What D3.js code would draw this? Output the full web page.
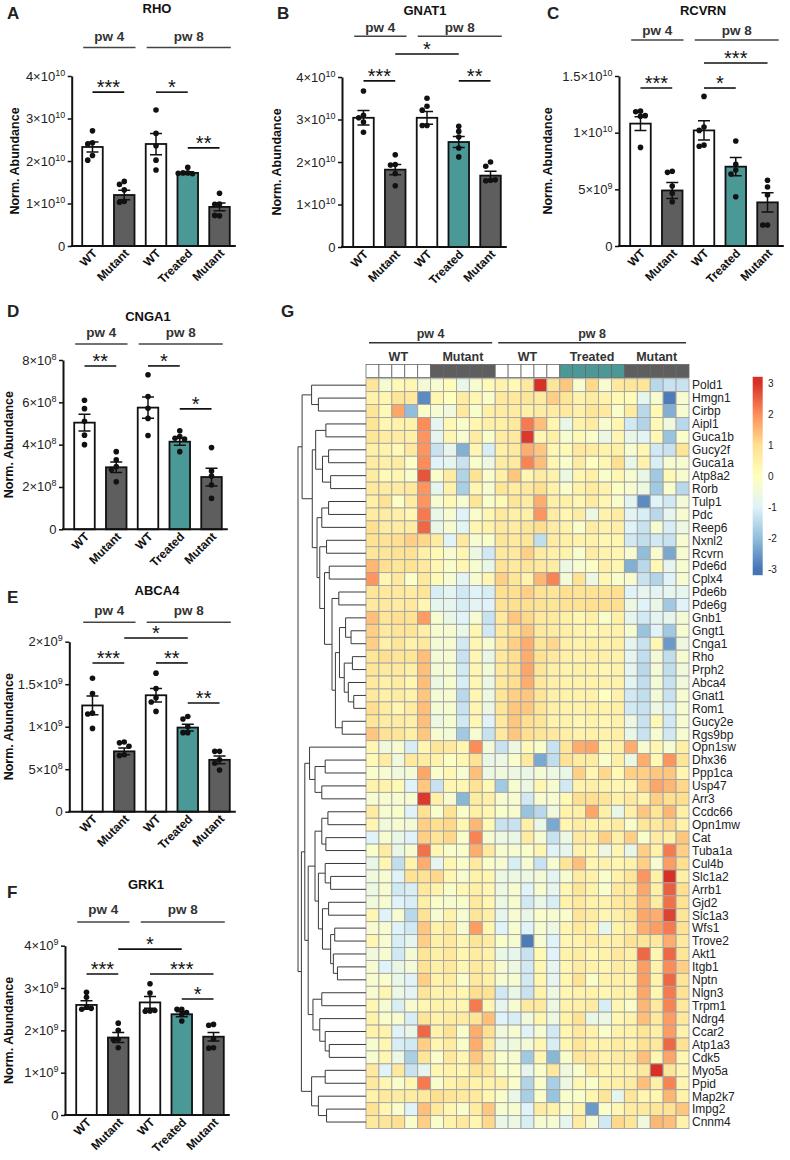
<!DOCTYPE html>
<html>
<head>
<meta charset="utf-8">
<script src="https://cdn.jsdelivr.net/npm/d3@7"></script>
<style>
  body { margin: 0; background: #fff; }
  svg { display: block; }
  text { font-family: "Liberation Sans", Arial, Helvetica, sans-serif; }
</style>
</head>
<body>
<svg id="fig" width="790" height="1160"></svg>
<script>
// ---- bar chart data (units shown in tick labels) ----
const groups = ["WT", "Mutant", "WT", "Treated", "Mutant"];
const groupFill = ["#ffffff", "#5e5e5e", "#ffffff", "#4b9997", "#5e5e5e"];

// RHO, x1e10
const rhoPoints = [[2.71, 2.43, 2.40, 2.13, 2.02], [1.52, 1.45, 1.32, 1.05, 1.03], [3.20, 2.65, 2.36, 2.02, 1.79], [1.85, 1.72, 1.72, 1.70, 1.71], [1.24, 0.99, 0.98, 0.71, 0.72]];
const rhoMean = [2.33, 1.20, 2.40, 1.72, 0.92];
const rhoSem = [0.12, 0.11, 0.25, 0.03, 0.09];
const rhoTicks = [0, 1, 2, 3, 4];
const rhoTickLabels = ["0", "1×10^10", "2×10^10", "3×10^10", "4×10^10"];

// GNAT1, x1e10
const gnatPoints = [[3.67, 3.10, 3.04, 2.94, 2.70], [2.17, 1.94, 1.93, 1.73, 1.44], [3.50, 3.31, 3.22, 2.86, 2.86], [2.84, 2.72, 2.59, 2.33, 2.12], [2.00, 1.90, 1.57, 1.56, 1.58]];
const gnatMean = [3.04, 1.82, 3.04, 2.47, 1.68];
const gnatSem = [0.17, 0.12, 0.15, 0.13, 0.10];
const gnatTicks = [0, 1, 2, 3, 4];
const gnatTickLabels = ["0", "1×10^10", "2×10^10", "3×10^10", "4×10^10"];

// RCVRN, x1e9
const rcvrnPoints = [[11.9, 11.85, 11.5, 11.45, 8.7], [6.6, 6.5, 5.3, 4.65, 3.9], [13.2, 10.5, 10.2, 8.9, 8.8], [9.26, 7.2, 6.7, 6.35, 4.35], [5.8, 5.2, 4.5, 1.85, 1.85]];
const rcvrnMean = [10.8, 4.9, 10.2, 7.0, 3.85];
const rcvrnSem = [0.6, 0.7, 0.85, 0.8, 0.85];
const rcvrnTicks = [0, 5, 10, 15];
const rcvrnTickLabels = ["0", "5×10^9", "1×10^10", "1.5×10^10"];

// CNGA1, x1e8
const cngaPoints = [[6.1, 5.7, 5.1, 4.45, 4.0], [3.67, 3.28, 2.96, 2.83, 2.25], [7.3, 6.27, 5.72, 5.24, 4.43], [4.66, 4.38, 4.3, 4.27, 3.67], [3.86, 2.76, 2.52, 2.09, 1.46]];
const cngaMean = [5.04, 2.93, 5.75, 4.14, 2.47];
const cngaSem = [0.4, 0.25, 0.5, 0.17, 0.42];
const cngaTicks = [0, 2, 4, 6, 8];
const cngaTickLabels = ["0", "2×10^8", "4×10^8", "6×10^8", "8×10^8"];

// ABCA4, x1e8
const abcaPoints = [[15.7, 13.9, 11.6, 11.5, 9.8], [8.2, 8.1, 7.7, 6.7, 6.6], [16.3, 14.5, 13.4, 12.9, 11.8], [11.2, 10.9, 10.0, 9.3, 9.3], [7.1, 7.1, 6.1, 5.7, 4.9]];
const abcaMean = [12.5, 7.1, 13.7, 9.9, 6.1];
const abcaSem = [1.1, 0.4, 0.8, 0.4, 0.45];
const abcaTicks = [0, 5, 10, 15, 20];
const abcaTickLabels = ["0", "5×10^8", "1×10^9", "1.5×10^9", "2×10^9"];

// GRK1, x1e9
const grkPoints = [[2.9, 2.78, 2.55, 2.5, 2.52], [2.17, 2.0, 1.79, 1.78, 1.59], [3.1, 2.88, 2.46, 2.45, 2.47], [2.5, 2.5, 2.42, 2.38, 2.22], [2.14, 2.12, 1.8, 1.59, 1.58]];
const grkMean = [2.6, 1.83, 2.66, 2.38, 1.85];
const grkSem = [0.1, 0.12, 0.14, 0.06, 0.1];
const grkTicks = [0, 1, 2, 3, 4];
const grkTickLabels = ["0", "1×10^9", "2×10^9", "3×10^9", "4×10^9"];

// significance brackets: [from group, to group, level in data units, label]
const rhoSig = [[0, 1, 3.62, "***"], [2, 3, 3.62, "*"], [3, 4, 2.31, "**"]];
const gnatSig = [[1, 3, 4.54, "*"], [0, 1, 3.91, "***"], [3, 4, 3.91, "**"]];
const rcvrnSig = [[2, 4, 16.15, "***"], [0, 1, 13.94, "***"], [2, 3, 13.94, "*"]];
const cngaSig = [[0, 1, 7.72, "**"], [2, 3, 7.72, "*"], [3, 4, 5.69, "*"]];
const abcaSig = [[1, 3, 20.44, "*"], [0, 1, 17.5, "***"], [2, 3, 17.5, "**"], [3, 4, 12.79, "**"]];
const grkSig = [[1, 3, 3.92, "*"], [0, 1, 3.33, "***"], [2, 4, 3.33, "***"], [3, 4, 2.74, "*"]];

// ---- heatmap data ----
const geneNames = ["Pold1", "Hmgn1", "Cirbp", "Aipl1", "Guca1b", "Gucy2f", "Guca1a", "Atp8a2", "Rorb", "Tulp1", "Pdc", "Reep6", "Nxnl2", "Rcvrn", "Pde6d", "Cplx4", "Pde6b", "Pde6g", "Gnb1", "Gngt1", "Cnga1", "Rho", "Prph2", "Abca4", "Gnat1", "Rom1", "Gucy2e", "Rgs9bp",
  "Opn1sw", "Dhx36", "Ppp1ca", "Usp47", "Arr3", "Ccdc66", "Opn1mw", "Cat", "Tuba1a", "Cul4b", "Slc1a2", "Arrb1", "Gjd2", "Slc1a3", "Wfs1", "Trove2", "Akt1", "Itgb1", "Nptn", "Nlgn3", "Trpm1", "Ndrg4", "Ccar2", "Atp1a3", "Cdk5", "Myo5a", "Ppid", "Map2k7", "Impg2", "Cnnm4"];
const heatSampleGroups = ["WT", "Mutant", "WT", "Treated", "Mutant"];
const samplesPerGroup = 5;
const heatTimepoints = [["pw 4", 0, 1], ["pw 8", 2, 4]];
const legendTicks = [3, 2, 1, 0, -1, -2, -3];

// z-scores, one row per gene, columns = 25 samples
const heatRows = [
  [0.8,-0.3,0.2,0.3,-0.4,-0.3,0.1,-0.7,-0.3,0.2,0.4,0.2,0.7,3.0,0.8,1.3,-0.3,1.1,-0.3,0.7,0.8,0.8,-1.5,-1.3,-1.3],
  [0.4,0.3,0.8,0.7,-2.7,0.3,0.0,0.6,0.3,-0.2,0.7,0.7,0.8,0.6,1.2,0.8,0.4,0.6,0.4,0.2,0.1,-0.8,-0.3,-2.9,-0.3],
  [0.8,0.2,1.7,-2.0,-0.2,-0.3,-0.5,0.7,-0.2,0.5,0.6,0.6,0.5,0.6,0.6,0.7,0.5,0.8,0.7,-0.2,0.6,-1.5,0.2,-2.2,-0.3],
  [0.8,0.3,0.4,0.4,2.0,-0.8,0.2,-0.2,0.3,0.5,0.5,0.7,2.2,1.4,0.3,-0.7,0.4,0.6,-0.3,0.3,-1.2,-1.6,0.2,-0.5,-1.5],
  [0.8,0.6,0.6,0.5,1.9,-0.8,0.3,-0.3,0.6,-0.2,0.6,0.7,2.9,0.3,0.5,-0.3,0.2,-0.2,-0.6,0.3,-0.7,-0.9,0.2,-1.9,-0.2],
  [0.5,0.4,0.2,0.7,1.9,-1.3,-0.8,-2.2,0.3,-1.1,0.5,0.7,1.6,1.3,0.3,0.2,0.7,0.6,0.4,0.5,-0.3,0.3,-1.2,-1.3,0.8],
  [0.6,0.5,0.6,-0.1,2.0,-1.0,-0.8,-1.3,-0.2,-0.6,0.6,0.7,2.1,1.4,0.3,-0.2,0.6,0.0,0.3,1.0,-0.7,0.4,-1.1,-0.3,-0.3],
  [0.6,0.2,0.3,-0.2,2.6,-0.2,0.6,-1.6,0.9,-0.2,0.5,1.3,0.3,0.6,0.4,-0.6,0.3,0.5,-0.2,0.3,-0.3,-0.7,-1.8,0.2,-0.3],
  [0.7,0.6,0.6,0.7,1.9,-0.8,0.4,-1.7,0.3,-0.3,0.8,0.6,0.7,1.0,0.4,-0.2,0.4,0.6,0.4,-0.1,-0.3,-0.6,-1.8,-0.2,-1.5],
  [0.5,0.9,-0.1,0.6,1.9,-0.3,0.2,-0.3,0.8,-0.2,0.2,0.8,0.6,1.6,0.5,0.5,0.3,0.6,0.3,-0.2,-0.9,-2.7,-1.0,-1.2,-0.4],
  [0.6,0.6,0.5,0.3,2.2,-0.7,-0.3,-1.0,-0.2,0.3,0.7,0.5,0.5,1.9,0.6,0.3,0.6,-0.6,0.4,0.6,-0.9,-1.1,-1.5,-0.8,-0.3],
  [1.0,0.6,0.6,0.6,2.4,-0.7,-0.3,-0.9,0.3,0.4,0.7,0.6,0.8,1.0,0.6,0.4,-0.2,0.6,0.4,0.5,-1.0,-1.3,-0.3,-1.1,-0.6],
  [0.9,0.9,1.0,1.2,1.1,0.6,-1.0,0.7,-0.3,-0.2,0.8,0.7,0.8,-1.4,0.6,0.5,0.4,0.4,0.3,0.3,-1.2,-1.4,-1.2,-1.3,-0.3],
  [0.8,0.8,0.9,0.9,0.5,0.2,-0.3,0.3,-0.6,-1.2,0.7,0.7,1.2,0.6,0.5,0.4,-0.2,0.6,0.4,0.3,-0.3,-2.0,-0.3,-2.3,-0.3],
  [1.5,1.0,0.8,0.9,0.7,0.3,-0.2,0.3,-0.3,-0.7,0.9,0.7,0.8,0.7,0.6,-0.6,-0.3,-0.1,0.5,0.3,-2.2,-1.5,0.2,-0.8,-0.3],
  [1.9,0.3,0.7,-0.1,0.7,0.2,-0.3,-0.9,-0.3,0.3,1.2,0.8,0.4,1.5,2.1,-0.4,0.9,-0.6,0.3,-0.2,-0.3,-1.3,-1.6,-1.0,-0.3],
  [0.8,0.7,0.7,0.6,0.8,-1.1,-0.9,-1.2,-1.0,-1.1,1.0,1.0,1.2,0.9,0.8,1.0,0.9,0.9,0.9,1.0,-1.0,-0.8,-0.9,-0.8,-0.8],
  [0.7,0.7,0.6,0.7,0.3,-0.8,-0.8,-1.1,-0.9,-1.0,0.9,1.0,1.0,0.9,0.8,0.9,0.9,1.0,1.0,1.0,-0.6,-1.0,-0.7,-1.8,-1.0],
  [1.4,0.8,1.0,0.9,1.8,-0.3,-0.7,-1.0,-0.3,-1.3,0.7,1.3,1.1,0.7,0.7,0.5,0.3,0.5,-0.2,0.5,-0.8,-1.2,-0.9,-0.8,-0.4],
  [1.2,0.7,0.8,0.8,0.5,-0.3,-0.3,-0.7,0.3,-1.2,0.7,1.0,1.3,0.7,0.6,0.5,0.4,0.3,0.4,0.4,-0.3,-1.9,-1.0,-1.8,-0.3],
  [1.2,0.5,0.8,0.4,0.7,-0.4,-0.3,-1.2,0.3,-0.3,0.7,1.2,1.6,0.8,1.1,0.5,0.4,0.5,0.4,0.5,-0.8,-1.3,0.3,-2.5,-0.6],
  [0.8,1.0,0.8,0.8,1.4,-0.4,-0.3,-1.3,0.3,-0.7,0.7,1.0,1.6,0.9,0.7,0.5,0.4,0.5,0.5,0.4,-0.8,-1.4,-0.4,-1.4,-0.3],
  [0.8,0.7,0.7,0.5,1.4,-0.4,-0.3,-1.2,0.3,-0.4,0.7,1.0,1.7,0.8,0.5,0.4,0.5,0.4,0.3,0.4,-0.8,-1.5,-0.4,-1.4,-0.5],
  [0.7,0.5,0.6,0.3,1.4,-0.6,-0.3,-1.1,0.3,-0.6,0.7,1.0,1.6,0.7,0.5,0.4,0.4,0.4,0.4,0.4,-0.9,-1.4,-0.4,-1.3,-0.5],
  [0.7,0.5,0.6,0.4,1.3,-0.4,-0.3,-1.5,0.3,-0.6,0.8,1.2,1.3,0.8,0.5,0.4,0.4,0.4,0.0,0.4,-1.2,-1.4,-0.4,-1.3,-0.3],
  [1.0,0.6,0.3,0.6,1.4,-0.4,-0.3,-1.3,0.3,-0.6,0.8,1.3,1.3,0.8,0.5,0.4,0.4,0.5,0.4,0.5,-1.2,-1.3,-0.6,-1.1,-0.3],
  [0.8,0.6,0.6,0.5,1.4,-0.6,-0.3,-1.2,0.3,-1.0,0.7,1.3,1.0,0.8,0.4,0.4,0.3,0.4,0.3,0.4,-0.6,-1.3,0.2,-1.2,-0.3],
  [1.3,0.9,0.8,0.5,1.3,-0.3,-0.4,-1.8,-0.3,-1.3,0.7,1.3,1.0,0.8,0.7,0.5,0.4,0.4,0.4,0.5,-0.7,-1.3,-0.3,-1.2,-0.3],
  [0.3,-0.5,-0.3,-1.1,0.3,0.8,0.7,0.3,2.0,-0.4,-1.3,-0.6,0.2,-0.2,-1.3,0.8,1.6,1.7,0.3,0.5,1.6,-0.3,0.3,-0.3,0.5],
  [0.2,0.6,-0.5,0.7,0.6,0.4,-0.1,0.3,0.9,-0.7,-0.6,-0.2,0.7,-2.3,-1.4,0.9,0.6,0.6,-0.2,0.5,-0.6,1.6,0.2,1.9,0.8],
  [-0.2,-0.3,-0.5,-0.4,1.7,-0.2,0.3,-0.3,1.4,-0.6,-0.5,-0.6,-0.7,-0.4,-0.6,-0.7,1.2,0.3,1.1,0.2,1.2,1.2,1.3,1.3,0.3],
  [0.4,0.4,0.2,-1.0,1.3,-1.3,0.3,0.3,0.9,0.2,-1.8,-0.3,-0.6,0.3,-0.3,-1.2,0.4,0.5,0.4,0.3,0.3,1.2,1.7,1.5,1.1],
  [-0.3,-0.3,-0.3,-0.3,2.9,0.5,-0.3,-2.1,0.6,0.5,-0.3,-0.3,-1.2,-0.3,-0.3,0.2,1.0,1.0,0.8,0.4,0.7,0.4,1.2,1.0,1.0],
  [0.6,-0.3,-0.2,-1.0,0.9,-0.2,0.9,-0.2,0.5,0.3,-0.2,-0.3,-1.9,-1.5,-0.5,0.4,0.5,1.7,0.5,-0.7,0.5,1.3,0.8,1.5,0.5],
  [0.3,-0.5,-0.3,-0.4,1.2,1.0,1.1,0.3,1.5,0.2,-1.3,-1.3,0.5,-0.7,-2.3,0.3,0.6,0.4,0.4,0.6,-0.2,0.8,0.7,1.1,0.4],
  [-1.0,-0.3,-0.7,-1.0,1.2,0.8,1.1,-0.2,2.1,-0.3,-0.6,-0.7,0.6,-0.3,-1.3,-0.6,0.7,0.5,1.2,0.5,1.2,-0.2,0.6,0.5,1.3],
  [-0.2,0.6,-0.7,-0.3,2.3,0.3,-0.2,-0.2,1.6,0.7,-0.3,-0.3,-0.2,0.3,-1.0,-0.8,0.4,0.3,-0.6,0.3,-0.7,1.2,0.4,2.2,1.2],
  [-0.7,0.3,-1.4,0.4,1.6,-0.8,0.3,-0.2,0.7,-0.2,-0.3,-1.1,-0.3,-1.3,-0.3,0.8,1.4,0.3,0.4,0.3,0.4,1.2,-0.3,1.8,1.0],
  [-0.5,-0.3,-1.0,0.9,0.9,1.1,0.3,-0.3,0.4,0.3,-0.6,-0.6,-0.6,-0.4,-0.9,-0.3,0.6,0.4,-0.2,0.4,0.8,1.9,0.5,3.0,0.5],
  [-0.6,-0.3,-1.2,-1.1,0.7,0.4,-0.2,0.3,0.5,0.3,-0.6,-0.3,-1.0,-0.3,-0.8,0.3,0.8,0.4,-0.2,0.7,0.7,1.7,0.5,2.5,1.0],
  [-0.5,-0.3,-1.0,-1.1,0.5,-0.2,-0.3,-0.2,0.7,0.3,-0.6,-0.3,-1.2,-0.7,-1.1,0.4,0.7,0.4,0.4,0.7,0.8,1.5,0.6,2.3,0.9],
  [0.3,-1.0,-0.3,-1.5,0.9,-0.3,0.4,-0.3,0.8,0.5,-0.8,-0.3,-0.7,-0.2,-0.3,-0.2,0.8,0.6,0.3,0.5,0.8,1.7,1.6,2.8,0.8],
  [-0.3,-0.3,-1.0,-1.2,1.3,0.4,0.7,-0.3,1.8,0.3,-1.0,-0.3,-1.0,-0.3,-0.6,0.3,0.7,0.4,-0.8,0.4,0.6,1.6,1.8,2.2,0.9],
  [0.3,-0.3,-1.1,-0.8,1.2,0.5,0.7,0.3,0.8,0.6,-0.2,-0.3,-2.9,-0.3,-1.0,0.3,0.4,0.6,0.4,0.5,0.9,0.8,0.7,1.6,0.7],
  [-0.5,-0.3,-1.2,-0.4,0.8,0.5,0.7,0.3,0.6,0.4,-0.7,-0.8,-1.3,0.2,-1.0,0.4,0.6,0.3,0.4,0.7,0.5,2.4,0.3,2.4,0.8],
  [-0.3,-1.0,-0.7,-0.4,0.9,0.5,0.7,0.3,0.7,0.5,-0.3,-0.6,-1.2,0.3,-0.8,0.3,0.6,0.4,0.3,0.6,0.5,1.8,0.4,2.0,1.2],
  [-0.3,-0.2,-0.7,-1.0,1.2,0.4,0.6,-0.2,0.7,0.5,-0.3,-0.3,-1.2,0.3,-0.8,0.3,0.9,-0.2,0.4,0.5,0.4,1.8,0.4,2.4,0.8],
  [-0.3,0.3,-0.6,-0.9,0.8,0.4,0.5,0.3,1.0,0.9,-1.2,-0.7,-1.3,0.4,-0.6,0.3,0.4,0.4,0.3,0.5,0.4,1.7,0.3,2.2,0.9],
  [0.3,-0.3,-1.1,-0.3,0.3,0.4,0.4,0.3,2.2,0.3,-0.8,-0.3,0.7,0.7,-0.6,0.4,0.5,0.6,-1.1,0.3,-0.2,1.5,0.7,2.1,0.7],
  [0.4,-0.2,-0.3,-1.1,0.8,0.4,0.6,0.6,0.8,1.4,-1.0,-1.1,-0.5,0.3,-0.6,0.4,0.9,-0.7,-0.6,0.3,0.4,1.4,0.7,1.8,0.7],
  [0.4,0.4,-1.0,-0.7,2.4,0.4,0.9,-0.2,1.6,1.0,-0.5,-0.3,-1.0,-0.3,-1.2,0.3,0.7,0.4,-0.2,0.4,0.4,0.8,0.5,1.8,0.4],
  [-0.3,0.3,-1.1,-1.2,1.2,0.3,0.6,-0.2,1.6,0.6,-0.6,-0.5,-0.4,0.3,-1.1,0.3,0.8,0.4,0.4,0.6,0.4,0.9,0.7,2.4,0.9],
  [-0.3,0.3,-0.6,-1.7,0.8,-0.2,0.7,0.3,1.3,0.6,-0.2,-0.3,-1.8,0.3,-2.1,-0.2,0.8,0.7,0.4,0.6,0.7,1.4,0.3,1.7,0.3],
  [0.7,-1.0,0.7,-1.3,-0.8,0.3,0.4,0.3,0.9,0.7,-0.2,-0.2,-0.8,-0.2,0.7,-0.5,-0.2,0.6,0.3,0.4,0.4,0.7,3.0,0.8,0.3],
  [0.7,0.3,-0.2,0.3,2.2,-0.2,0.4,0.6,0.4,0.4,0.5,-0.2,-1.6,-0.2,-1.7,-0.6,0.3,-0.2,0.4,0.5,0.6,1.4,0.5,2.1,0.3],
  [0.4,0.7,0.6,0.6,0.7,1.0,0.8,0.7,0.7,0.3,-0.2,-0.7,-1.7,-0.2,-1.9,-0.2,-0.2,0.3,0.8,-0.8,0.8,0.3,0.3,1.5,0.4],
  [0.9,0.3,-0.2,-1.0,1.4,0.7,0.3,-0.2,0.6,1.3,-0.3,-0.3,-1.0,0.6,0.4,-0.2,0.4,-2.5,-0.2,0.3,0.6,0.7,0.8,0.9,1.3],
  [0.7,0.8,1.0,-0.2,1.2,-0.2,0.4,0.7,0.3,1.1,-0.7,-0.6,-1.1,-0.3,-0.3,-0.8,0.6,-0.3,-1.2,1.1,0.8,-0.5,1.5,1.4,0.4]
];

// row dendrogram: [merge height, left, right]; numbers are row indices
const rowTree = [10,
  [9.4,
    [8.0, 0, [7.0, 1, 2]],
    [7.9,
      [7.4, [5.9, 3, 4], [6.4, [5.5, 5, 6], [5.2, 7, 8]]],
      [7.2, [6.5, [5.5, 9, 10], 11],
        [6.8, [5.8, 12, 13],
          [6.1, [5.4, 14, 15],
            [5.0, [4.0, 16, 17],
              [4.5,
                [3.9, [3.0, 18, [2.2, 19, 20]], [3.2, [2.0, 21, 22], [2.6, 23, [1.8, 24, 25]]]],
                [3.5, 26, 27]]]]]]]],
  [9.5,
    [9.0,
      [8.3, 28, [7.5, [6.0, 29, 30], [6.5, 31, 32]]],
      [8.5,
        [7.5, [6.5, [5.6, 33, 34], [5.9, 35, 36]],
          [7.0, [6.0, 37, [5.2, 38, 39]],
            [6.4, [5.5, 40, 41], [5.2, [4.6, 42, 43], [4.8, 44, [4.2, 45, 46]]]]]],
        [7.8, [6.5, 47, 48], [6.8, 49, [6.0, 50, [5.4, 51, 52]]]]]],
    [8.0, [6.0, 53, 54], [7.0, 55, [5.8, 56, 57]]]]];

const svg = d3.select("#fig");

const panels = [
  { letter: "A", title: "RHO", points: rhoPoints, mean: rhoMean, sem: rhoSem, ticks: rhoTicks, tickLabels: rhoTickLabels, sig: rhoSig,
    max: 4, axisX: 71.7, bandX: 71, yTop: 76, yBase: 246, letterPos: [7, 19], titlePos: [157, 13], labelX: 15, pwLevel: 4.67, pwDy: 6.5 },
  { letter: "B", title: "GNAT1", points: gnatPoints, mean: gnatMean, sem: gnatSem, ticks: gnatTicks, tickLabels: gnatTickLabels, sig: gnatSig,
    max: 4, axisX: 342, bandX: 342, yTop: 77, yBase: 247, letterPos: [277, 18.5], titlePos: [425, 14.5], labelX: 277, pwLevel: 4.96, pwDy: 4 },
  { letter: "C", title: "RCVRN", points: rcvrnPoints, mean: rcvrnMean, sem: rcvrnSem, ticks: rcvrnTicks, tickLabels: rcvrnTickLabels, sig: rcvrnSig,
    max: 15, axisX: 619, bandX: 619, yTop: 76, yBase: 246, letterPos: [547, 18.5], titlePos: [703, 14.5], labelX: 548, pwLevel: 18.18, pwDy: 5 },
  { letter: "D", title: "CNGA1", points: cngaPoints, mean: cngaMean, sem: cngaSem, ticks: cngaTicks, tickLabels: cngaTickLabels, sig: cngaSig,
    max: 8, axisX: 63, bandX: 63, yTop: 360, yBase: 529.3, letterPos: [7, 316.5], titlePos: [148, 321], labelX: 9, pwLevel: 8.76, pwDy: 6.5 },
  { letter: "E", title: "ABCA4", points: abcaPoints, mean: abcaMean, sem: abcaSem, ticks: abcaTicks, tickLabels: abcaTickLabels, sig: abcaSig,
    max: 20, axisX: 69.3, bandX: 71, yTop: 641.7, yBase: 811.7, letterPos: [7, 603], titlePos: [157, 594.5], labelX: 9, pwLevel: 22.3, pwDy: 7.5 },
  { letter: "F", title: "GRK1", points: grkPoints, mean: grkMean, sem: grkSem, ticks: grkTicks, tickLabels: grkTickLabels, sig: grkSig,
    max: 4, axisX: 65, bandX: 65, yTop: 945.7, yBase: 1115, letterPos: [7, 898], titlePos: [146, 889], labelX: 9, pwLevel: 4.56, pwDy: 7.5 }
];

// spread overlapping dots sideways, GraphPad style
function spreadDots(vals, y, r) {
  const placed = [];
  return vals.map(v => {
    const py = y(v);
    for (const k of [0, -1, 1, -2, 2, -3, 3]) {
      const px = k * 1.7 * r;
      if (placed.every(q => Math.hypot(q[0] - px, q[1] - py) >= 1.7 * r)) {
        placed.push([px, py]);
        return px;
      }
    }
    return 0;
  });
}

function tickText(sel, label) {
  const parts = label.split("^");
  sel.text(parts[0]);
  if (parts[1]) sel.append("tspan").attr("dy", -5).attr("font-size", 9).text(parts[1]);
}

function drawBarPanel(p) {
  const g = svg.append("g");
  const x = d3.scaleBand().domain(d3.range(5)).range([p.bandX, p.bandX + 170]).padding(0.353);
  const y = d3.scaleLinear().domain([0, p.max]).range([p.yBase, p.yTop]);
  const bw = x.bandwidth();

  // letter + title
  g.append("text").attr("x", p.letterPos[0]).attr("y", p.letterPos[1])
    .attr("font-size", 17).attr("font-weight", "bold").attr("fill", "#222").text(p.letter);
  g.append("text").attr("x", p.titlePos[0]).attr("y", p.titlePos[1]).attr("text-anchor", "middle")
    .attr("font-size", 13).attr("font-weight", "bold").attr("fill", "#111").text(p.title);

  // pw brackets
  [["pw 4", 0, 1], ["pw 8", 2, 4]].forEach(([lab, a, b]) => {
    const x1 = x(a) + 1, x2 = x(b) + bw + 1;
    g.append("line").attr("x1", x1).attr("x2", x2).attr("y1", y(p.pwLevel)).attr("y2", y(p.pwLevel))
      .attr("stroke", "#444").attr("stroke-width", 1.5);
    g.append("text").attr("x", (x1 + x2) / 2).attr("y", y(p.pwLevel) - p.pwDy).attr("text-anchor", "middle")
      .attr("font-size", 13.5).attr("font-weight", "bold").attr("fill", "#333").text(lab);
  });

  // y axis
  g.append("g").attr("transform", `translate(${p.axisX},0)`)
    .call(d3.axisLeft(y).tickValues(p.ticks).tickSize(4).tickSizeOuter(0).tickFormat(""))
    .call(a => a.select(".domain").attr("stroke", "#111").attr("stroke-width", 2))
    .call(a => a.selectAll(".tick line").attr("stroke", "#111").attr("stroke-width", 1.5));
  p.ticks.forEach((t, i) => {
    g.append("text").attr("x", p.axisX - 6.5).attr("y", y(t) + 4.5).attr("text-anchor", "end")
      .attr("font-size", 13).attr("fill", "#222").call(tickText, p.tickLabels[i]);
  });
  g.append("text").attr("transform", `translate(${p.labelX},${(p.yTop + p.yBase) / 2}) rotate(-90)`)
    .attr("text-anchor", "middle").attr("dy", "0.35em").attr("font-size", 12.5).attr("font-weight", "bold")
    .attr("fill", "#111").text("Norm. Abundance");

  // bars
  g.selectAll("rect.bar").data(p.mean).join("rect").attr("class", "bar")
    .attr("x", (d, i) => x(i)).attr("y", d => y(d)).attr("width", bw).attr("height", d => p.yBase - y(d))
    .attr("fill", (d, i) => groupFill[i]).attr("stroke", "#111").attr("stroke-width", 1.8);

  // x axis line
  g.append("line").attr("x1", p.axisX - 1).attr("x2", x(4) + bw + 6).attr("y1", p.yBase).attr("y2", p.yBase)
    .attr("stroke", "#111").attr("stroke-width", 2);

  // error bars (mean ± SEM)
  p.mean.forEach((m, i) => {
    const cx = x(i) + bw / 2, lo = y(m - p.sem[i]), hi = y(m + p.sem[i]);
    g.append("path").attr("d", `M${cx},${lo}V${hi}M${cx - 6},${hi}H${cx + 6}M${cx - 6},${lo}H${cx + 6}`)
      .attr("stroke", "#111").attr("stroke-width", 1.5).attr("fill", "none");
  });

  // dots
  const r = 2.8;
  p.points.forEach((vals, i) => {
    const offs = spreadDots(vals, y, r);
    g.selectAll(null).data(vals).join("circle")
      .attr("cx", (d, k) => x(i) + bw / 2 + offs[k]).attr("cy", d => y(d)).attr("r", r).attr("fill", "#111");
  });

  // significance
  p.sig.forEach(([a, b, lev, lab]) => {
    const x1 = x(a) + bw / 2, x2 = x(b) + bw / 2;
    g.append("line").attr("x1", x1).attr("x2", x2).attr("y1", y(lev)).attr("y2", y(lev))
      .attr("stroke", "#111").attr("stroke-width", 1.6);
    g.append("text").attr("x", (x1 + x2) / 2).attr("y", y(lev) + 2).attr("text-anchor", "middle")
      .attr("font-size", 20).attr("fill", "#111").text(lab);
  });

  // x tick labels
  groups.forEach((lab, i) => {
    g.append("text").attr("transform", `translate(${x(i) + bw / 2 + 5.5},${p.yBase + 8}) rotate(-45)`)
      .attr("text-anchor", "end").attr("font-size", 12).attr("font-weight", "bold").attr("fill", "#111").text(lab);
  });
}

panels.forEach(drawBarPanel);

// ---- heatmap ----
const color = d3.scaleLinear().domain([-3, -2, -1, 0, 1, 2, 3])
  .range(["#4575B4", "#91BFDB", "#E0F3F8", "#FFFFBF", "#FEE090", "#FC8D59", "#D73027"]).clamp(true);
const nCols = heatSampleGroups.length * samplesPerGroup;
const hx = d3.scaleBand().domain(d3.range(nCols)).range([366, 689]);
const hy = d3.scaleBand().domain(d3.range(geneNames.length)).range([378.7, 1128.5]);
const hg = svg.append("g");

hg.append("text").attr("x", 281).attr("y", 316.5).attr("font-size", 17).attr("font-weight", "bold").attr("fill", "#222").text("G");

heatTimepoints.forEach(([lab, a, b]) => {
  const x1 = hx(a * samplesPerGroup) + 3, x2 = hx((b + 1) * samplesPerGroup - 1) + hx.bandwidth() - 3;
  hg.append("line").attr("x1", x1).attr("x2", x2).attr("y1", 342.7).attr("y2", 342.7).attr("stroke", "#333").attr("stroke-width", 1.5);
  hg.append("text").attr("x", (x1 + x2) / 2).attr("y", 338).attr("text-anchor", "middle")
    .attr("font-size", 12.5).attr("font-weight", "bold").attr("fill", "#333").text(lab);
});
heatSampleGroups.forEach((lab, gi) => {
  const x1 = hx(gi * samplesPerGroup), x2 = hx(gi * samplesPerGroup + samplesPerGroup - 1) + hx.bandwidth();
  hg.append("text").attr("x", (x1 + x2) / 2).attr("y", 361).attr("text-anchor", "middle")
    .attr("font-size", 12.5).attr("font-weight", "bold").attr("fill", "#333").text(lab);
});
hg.selectAll("rect.anno").data(d3.range(nCols)).join("rect").attr("class", "anno")
  .attr("x", c => hx(c)).attr("y", 364.5).attr("width", hx.bandwidth()).attr("height", 13)
  .attr("fill", c => groupFill[Math.floor(c / samplesPerGroup)]).attr("stroke", "#666").attr("stroke-width", 0.8);

const cells = heatRows.flatMap((row, r) => row.map((v, c) => ({ r, c, v })));
hg.selectAll("rect.cell").data(cells).join("rect").attr("class", "cell")
  .attr("x", d => hx(d.c)).attr("y", d => hy(d.r)).attr("width", hx.bandwidth()).attr("height", hy.bandwidth())
  .attr("fill", d => color(d.v)).attr("stroke", "#a3a3a3").attr("stroke-width", 0.9);

hg.selectAll("text.gene").data(geneNames).join("text").attr("class", "gene")
  .attr("x", 692).attr("y", (d, i) => hy(i) + hy.bandwidth() / 2).attr("dy", "0.36em")
  .attr("font-size", 12).attr("fill", "#222").text(d => d);

// dendrogram
const dx = d3.scaleLinear().domain([0, 10]).range([366, 298]);
const dg = hg.append("g").attr("fill", "none").attr("stroke", "#3a3a3a").attr("stroke-width", 1);
function drawNode(node) {
  if (typeof node === "number") return { y: hy(node) + hy.bandwidth() / 2, h: 0 };
  const [h, a, b] = node;
  const A = drawNode(a), B = drawNode(b);
  dg.append("path").attr("d", `M${dx(A.h)},${A.y}H${dx(h)}V${B.y}H${dx(B.h)}`);
  return { y: (A.y + B.y) / 2, h };
}
drawNode(rowTree);

// colour legend
const ly = d3.scaleLinear().domain([3, -3]).range([383, 569]);
const grad = svg.append("defs").append("linearGradient").attr("id", "lg").attr("x1", 0).attr("x2", 0).attr("y1", 0).attr("y2", 1);
d3.range(3.2, -3.21, -0.2).forEach(v => {
  grad.append("stop").attr("offset", (ly(v) - ly(3.2)) / (ly(-3.2) - ly(3.2))).attr("stop-color", color(v));
});
hg.append("rect").attr("x", 752.7).attr("y", ly(3.2)).attr("width", 10).attr("height", ly(-3.2) - ly(3.2)).attr("fill", "url(#lg)");
hg.selectAll("text.lt").data(legendTicks).join("text").attr("class", "lt")
  .attr("x", 768).attr("y", d => ly(d)).attr("dy", "0.35em").attr("font-size", 10).attr("fill", "#222").text(d => d);
</script>
</body>
</html>
